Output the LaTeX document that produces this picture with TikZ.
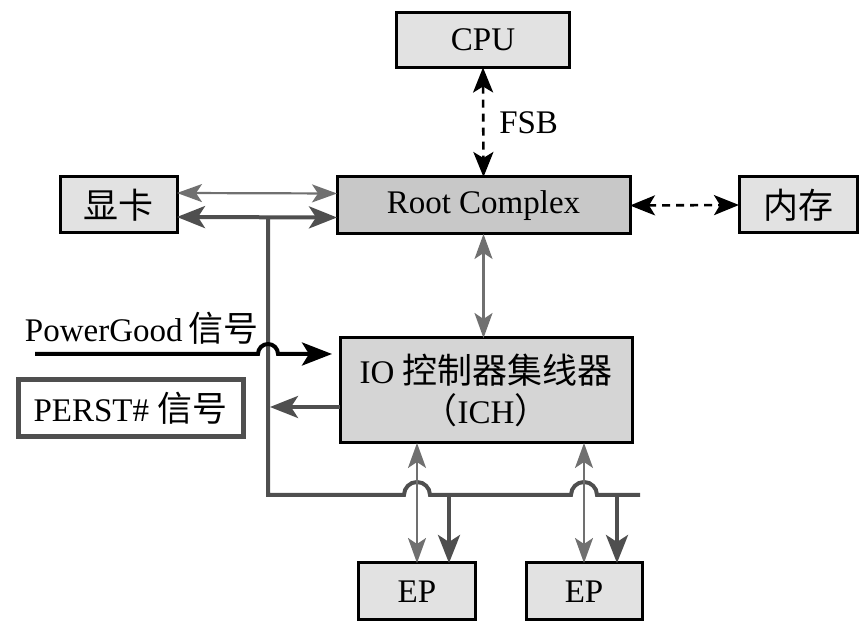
\documentclass[tikz,border=0pt]{standalone}
\usepackage{fontspec}
\setmainfont{Liberation Serif}
\newfontfamily\cjk[Scale=1.06]{Noto Sans CJK SC}
\usetikzlibrary{arrows.meta}
\definecolor{boxgray}{HTML}{E2E2E2}
\definecolor{rcgray}{HTML}{C8C8C8}
\definecolor{ichgray}{HTML}{D5D5D5}
\definecolor{thingray}{HTML}{707070}
\definecolor{darkgray}{HTML}{4F4F4F}

\begin{document}
\begin{tikzpicture}[x=0.5pt,y=0.5pt,inner sep=0pt,outer sep=0pt,
font=\fontsize{16.5}{20}\selectfont,
sysblock/.style={draw,rectangle,line width=1.5pt,fill=boxgray},
thinarr/.style={{Stealth[length=12.5pt,width=9pt,inset=3pt]}-{Stealth[length=12.5pt,width=9pt,inset=3pt]},line width=1.1pt,draw=thingray,fill=thingray},
thickarr/.style={-{Stealth[length=14pt,width=11pt,inset=3.5pt]},line width=2pt,draw=darkgray,fill=darkgray},
busarr/.style={{Stealth[length=14pt,width=11pt,inset=3.5pt]}-{Stealth[length=14pt,width=11pt,inset=3.5pt]},line width=2pt,draw=darkgray,fill=darkgray},
dasharr/.style={{Stealth[length=12.5pt,width=10pt,inset=3pt]}-{Stealth[length=12.5pt,width=10pt,inset=3pt]},line width=1.3pt,dash pattern=on 4pt off 3pt},
busline/.style={line width=2pt,draw=darkgray}]
\useasboundingbox (0,0) rectangle (862,626);

% boxes
\node[sysblock,minimum width=86.5pt,minimum height=27.5pt] (cpu) at (483,586) {CPU};
\node[sysblock,fill=rcgray,minimum width=146.5pt,minimum height=28.5pt] (rc) at (483.5,420.5) {Root Complex};
\node[sysblock,minimum width=58.5pt,minimum height=28pt] (gpu) at (118.5,421) {\cjk 显卡};
\node[sysblock,minimum width=59pt,minimum height=28pt] (mem) at (798,421) {\cjk 内存};
\node[sysblock,fill=ichgray,minimum width=146pt,minimum height=52.5pt,align=center] (ich) at (486,235.5)
  {IO {\cjk 控制器集线器}\\{\cjk （}ICH{\cjk ）}};
\node[draw=darkgray,line width=2.5pt,rectangle,minimum width=112.5pt,minimum height=28.5pt] (perst) at (130.5,217.5) {PERST\# {\cjk 信号}};
\node[sysblock,minimum width=58.5pt,minimum height=28.5pt] (ep1) at (417,34.5) {EP};
\node[sysblock,minimum width=58pt,minimum height=28.5pt] (ep2) at (584,34.5) {EP};
\node[anchor=west] (pglabel) at (25,298) {PowerGood\hspace{3pt}{\cjk 信号}};

% buses
\draw[dasharr] (cpu.south) -- node[right=8pt] (fsb) {FSB} (rc.north);
\draw[dasharr] (rc.east) -- (mem.west);
\draw[thinarr] ([yshift=6pt]gpu.east) -- ([yshift=6pt]rc.west);
\draw[busarr] ([yshift=-6pt]gpu.east) -- ([yshift=-6pt]rc.west);
\draw[thinarr] (rc.south) -- (rc.south |- ich.north);

% reset lines
\coordinate (bustop) at (268,409);
\coordinate (buscorner) at (268,131);
\coordinate (busend) at (640,131);
\coordinate (pgin) at (35,272);
\draw[busline] (bustop) -- (buscorner)
  -- ([xshift=-6.5pt]ep1.north |- buscorner) arc[start angle=180,end angle=0,radius=6.5pt]
  -- ([xshift=-6.5pt]ep2.north |- buscorner) arc[start angle=180,end angle=0,radius=6.5pt]
  -- (busend);
\draw[line width=2pt,-{Stealth[length=15pt,width=11.5pt,inset=3.5pt]},shorten >=4pt]
  (pgin) -- ([xshift=-5pt]pgin -| buscorner) arc[start angle=180,end angle=0,radius=5pt]
  -- (pgin -| ich.west);
\draw[thickarr,shorten >=1pt] ([yshift=-8.25pt]ich.west) -- ([yshift=-8.25pt]ich.west -| buscorner);
\draw[thinarr] (ep1.north |- ich.south) -- (ep1.north);
\draw[thinarr] (ep2.north |- ich.south) -- (ep2.north);
\draw[thickarr] ([xshift=16pt]ep1.north |- buscorner) -- ([xshift=16pt]ep1.north);
\draw[thickarr] ([xshift=16.5pt]ep2.north |- buscorner) -- ([xshift=16.5pt]ep2.north);
\end{tikzpicture}
\end{document}
